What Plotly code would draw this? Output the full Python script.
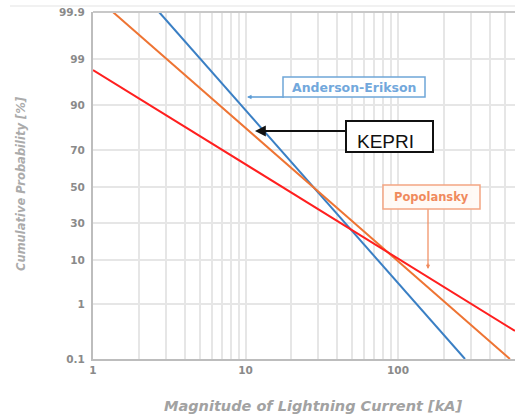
import numpy as np
import plotly.graph_objects as go

# ---- data ----
tick_probs = [0.1, 1, 10, 30, 50, 70, 90, 99, 99.9]
tick_labels = ["0.1", "1", "10", "30", "50", "70", "90", "99", "99.9"]
x_tick_labels = {1: "1", 10: "10", 100: "100"}

ae_current = [2.71, 275]      # Anderson-Erikson
ae_prob = [99.9, 0.1]
kepri_current = [1.35, 542]   # KEPRI
kepri_prob = [99.9, 0.1]
pop_current = [1, 585]        # Popolansky
pop_prob = [96.85, 0.56]

# ---- custom probability scale (axis positions of the probability ticks) ----
scale_pos = [0, 55, 99, 136, 172, 209, 254, 300, 347]


def yscale(p):
    return np.interp(p, tick_probs, scale_pos)


W, H = 515, 418
ML, MR, MT, MB = 93, 0, 12, 59
PW, PH = W - ML - MR, H - MT - MB


def px(x):
    return (x - ML) / PW


def py(y):
    return (H - MB - y) / PH


fig = go.Figure()
series = [
    ("Anderson-Erikson", ae_current, ae_prob, "#3a7fc4"),
    ("KEPRI", kepri_current, kepri_prob, "#ee7433"),
    ("Popolansky", pop_current, pop_prob, "#ff1f1f"),
]
for name, xs, ps, col in series:
    fig.add_trace(go.Scatter(x=xs, y=yscale(ps), mode="lines", name=name,
                             line=dict(color=col, width=2), showlegend=False,
                             cliponaxis=True))

xticks = [m * 10 ** d for d in range(0, 3) for m in range(1, 10)]
xtext = [x_tick_labels.get(v, "") for v in xticks]

tickfont = dict(family="DejaVu Sans", size=10.5, color="#8a8a8a", weight="bold")

fig.update_xaxes(type="log", range=[0, PW / 152.5], tickvals=xticks, ticktext=xtext,
                 showgrid=True, gridcolor="#e6e6e6", gridwidth=1.5,
                 showline=True, linecolor="#bdbdbd", linewidth=2,
                 ticks="", tickfont=tickfont, zeroline=False)
fig.update_yaxes(range=[0, 347], tickvals=scale_pos, ticktext=tick_labels,
                 showgrid=True, gridcolor="#e6e6e6", gridwidth=1.5,
                 showline=True, linecolor="#bdbdbd", linewidth=2,
                 ticks="", tickfont=tickfont, zeroline=False, ticklabelstandoff=4)


def box(x0, y0, x1, y1, color, width, fill):
    return dict(type="rect", xref="paper", yref="paper", x0=px(x0), x1=px(x1),
                y0=py(y1), y1=py(y0), line=dict(color=color, width=width), fillcolor=fill)


shapes = [
    # top border of plot
    dict(type="line", xref="paper", yref="paper", x0=0, x1=1, y0=1, y1=1,
         line=dict(color="#c8c8c8", width=2)),
    # faint line at very top of image
    dict(type="line", xref="paper", yref="paper", x0=px(10), x1=1, y0=py(6), y1=py(6),
         line=dict(color="#ececec", width=1.5)),
    # Anderson-Erikson leader
    dict(type="line", xref="paper", yref="paper", x0=px(250), x1=px(284), y0=py(97), y1=py(97),
         line=dict(color="#5b9bd5", width=1.5)),
    # KEPRI leader
    dict(type="line", xref="paper", yref="paper", x0=px(262), x1=px(346), y0=py(131), y1=py(131),
         line=dict(color="#111111", width=1.8)),
    # Popolansky leader
    dict(type="line", xref="paper", yref="paper", x0=px(428), x1=px(428), y0=py(209), y1=py(266),
         line=dict(color="#f08a5d", width=1.2)),
    box(283, 77, 425, 97, "#6fa6d8", 1.5, "rgba(255,255,255,0.9)"),
    box(346, 121, 433, 152, "#111111", 2, "white"),
    box(383, 185, 480, 209, "#f4a582", 1.5, "rgba(255,250,246,0.95)"),
]

C = dict(xanchor="center", yanchor="middle", xref="paper", yref="paper", showarrow=False)

annotations = [
    dict(x=px(354), y=py(87), text="Anderson-Erikson",
         font=dict(family="DejaVu Sans", size=12.5, color="#72a8dc", weight="bold"), **C),
    dict(x=px(385), y=py(141), text="KEPRI",
         font=dict(family="Liberation Sans", size=19, color="#111111"), **C),
    dict(x=px(431.5), y=py(197), text="Popolansky",
         font=dict(family="DejaVu Sans", size=11.5, color="#f08a5d", weight="bold"), **C),
    # axis titles
    dict(x=px(313), y=py(406), text="<i>Magnitude of Lightning Current [kA]</i>",
         font=dict(family="DejaVu Sans", size=14.5, color="#a2a2a2", weight="bold"), **C),
    dict(x=px(21), y=py(184), text="<i>Cumulative Probability [%]</i>", textangle=-90,
         font=dict(family="DejaVu Sans", size=11.5, color="#ababab", weight="bold"), **C),
    # arrow heads
    dict(xref="paper", yref="paper", x=px(247), y=py(97), ax=6, ay=0,
         axref="pixel", ayref="pixel", showarrow=True, arrowhead=2, arrowsize=0.6,
         arrowwidth=1.5, arrowcolor="#5b9bd5", text=""),
    dict(xref="paper", yref="paper", x=px(255), y=py(131), ax=13, ay=0,
         axref="pixel", ayref="pixel", showarrow=True, arrowhead=2, arrowsize=1.2,
         arrowwidth=1.8, arrowcolor="#111111", text=""),
    dict(xref="paper", yref="paper", x=px(428), y=py(269), ax=0, ay=-7,
         axref="pixel", ayref="pixel", showarrow=True, arrowhead=2, arrowsize=0.7,
         arrowwidth=1.2, arrowcolor="#f08a5d", text=""),
]

fig.update_layout(width=W, height=H, margin=dict(l=ML, r=MR, t=MT, b=MB),
                  plot_bgcolor="white", paper_bgcolor="white",
                  shapes=shapes, annotations=annotations, showlegend=False)

fig.write_html("out.html")
